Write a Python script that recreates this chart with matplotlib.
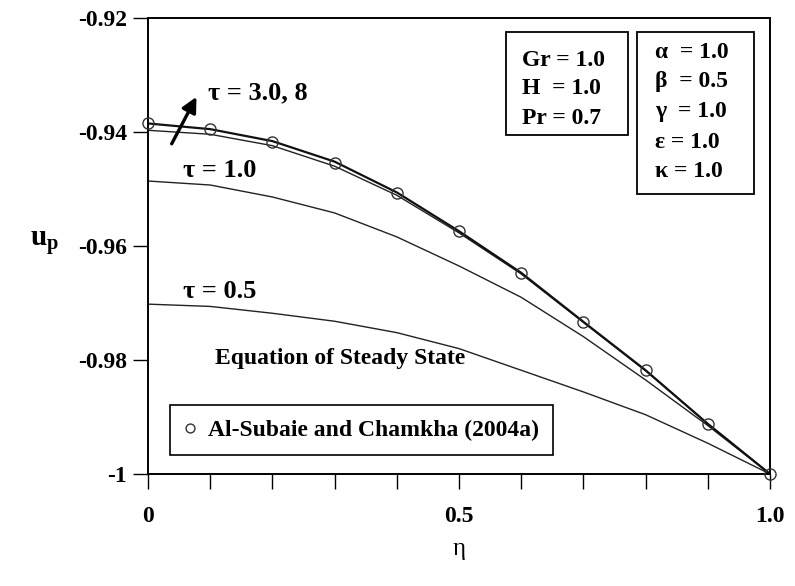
import numpy as np
import matplotlib.pyplot as plt
from matplotlib.patches import Rectangle
from matplotlib.ticker import MultipleLocator, FixedLocator

plt.rcParams['font.family'] = ['Liberation Serif', 'DejaVu Serif']
plt.rcParams['mathtext.fontset'] = 'custom'
plt.rcParams['mathtext.rm'] = 'Liberation Serif'
plt.rcParams['mathtext.bf'] = 'Liberation Serif:bold'

eta = [0.0, 0.1, 0.2, 0.3, 0.4, 0.5, 0.6, 0.7, 0.8, 0.9, 1.0]
u_steady = [-0.9385, -0.9395, -0.9416, -0.9452, -0.9506, -0.9574, -0.9647, -0.9733, -0.9818, -0.9912, -1.0]
u_tau3 = [-0.9397, -0.9404, -0.9424, -0.9460, -0.9511, -0.9577, -0.9649, -0.9734, -0.9819, -0.9912, -1.0]
u_tau1 = [-0.9486, -0.9493, -0.9514, -0.9542, -0.9584, -0.9635, -0.9690, -0.9759, -0.9835, -0.9915, -1.0]
u_tau05 = [-0.9702, -0.9706, -0.9718, -0.9732, -0.9752, -0.9780, -0.9818, -0.9856, -0.9896, -0.9946, -1.0]
ref_eta = [0.0, 0.1, 0.2, 0.3, 0.4, 0.5, 0.6, 0.7, 0.8, 0.9, 1.0]
ref_u = [-0.9384, -0.9395, -0.9418, -0.9454, -0.9507, -0.9574, -0.9647, -0.9733, -0.9818, -0.9912, -1.0]

params_left = ['Gr = 1.0', 'H  = 1.0', 'Pr = 0.7']
params_right = ['α  = 1.0', 'β  = 0.5', 'γ  = 1.0', 'ε = 1.0', 'κ = 1.0']

W, H = 795, 586
fig = plt.figure(figsize=(W / 100, H / 100), dpi=100)
ax = fig.add_axes([148 / W, 1 - 474 / H, 622 / W, 456 / H])

ax.plot(eta, u_tau05, color='#222222', lw=1.0)
ax.plot(eta, u_tau1, color='#222222', lw=1.0)
ax.plot(eta, u_tau3, color='#222222', lw=1.0)
ax.plot(eta, u_steady, color='#111111', lw=1.6)
ref_line, = ax.plot(ref_eta, ref_u, 'o', mfc='none', mec='#333333', ms=8, mew=1.0,
                    clip_on=False, zorder=5)

ax.set_xlim(0, 1.0)
ax.set_ylim(-1.0, -0.92)
ax.xaxis.set_major_locator(FixedLocator([0, 0.5, 1.0]))
ax.xaxis.set_minor_locator(MultipleLocator(0.1))
ax.set_xticklabels(['0', '0.5', '1.0'])
ax.yaxis.set_major_locator(FixedLocator([-1.0, -0.98, -0.96, -0.94, -0.92]))
ax.set_yticklabels(['-1', '-0.98', '-0.96', '-0.94', '-0.92'])
ax.tick_params(axis='x', which='both', direction='out', length=11, width=1.0,
               pad=12, labelsize=17)
ax.tick_params(axis='y', which='major', direction='out', length=11, width=1.0,
               pad=4, labelsize=17)
for lab in ax.get_xticklabels() + ax.get_yticklabels():
    lab.set_fontweight('bold')
for sp in ax.spines.values():
    sp.set_linewidth(1.4)

ax.set_xlabel('η', fontsize=18, labelpad=8)
fig.text(44 / W, 1 - 243 / H, r'$\mathbf{u_p}$', fontsize=21, ha='center', va='center')

ax.text(0.096, -0.9331, 'τ = 3.0, 8', fontsize=19, fontweight='bold', ha='left', va='center')
ax.annotate('', xy=(0.080, -0.9334), xytext=(0.036, -0.9425),
            arrowprops=dict(arrowstyle='-|>,head_length=0.9,head_width=0.45',
                            color='black', lw=2.4))
ax.text(0.056, -0.9467, 'τ = 1.0', fontsize=19, fontweight='bold', ha='left', va='center')
ax.text(0.056, -0.9679, 'τ = 0.5', fontsize=19, fontweight='bold', ha='left', va='center')
ax.text(0.107, -0.9798, 'Equation of Steady State', fontsize=17, fontweight='bold',
        ha='left', va='center')

leg = ax.legend([ref_line], ['Al-Subaie and Chamkha (2004a)'], loc='lower left',
                bbox_to_anchor=((170 - 148) / 622, (474 - 455) / 456), fancybox=False,
                edgecolor='black', framealpha=1, handlelength=0.5, handletextpad=0.5,
                borderpad=0.6, borderaxespad=0,
                prop={'weight': 'bold', 'size': 17, 'family': 'Liberation Serif'},
                markerscale=0.8)
leg.get_frame().set_linewidth(1.2)

# parameter boxes
fig.add_artist(Rectangle((506 / W, 1 - 135 / H), 122 / W, 103 / H, transform=fig.transFigure,
                         fill=False, ec='black', lw=1.3))
for i, s in enumerate(params_left):
    fig.text(522 / W, 1 - (60 + 29 * i) / H, s, fontsize=17, fontweight='bold',
             ha='left', va='center')
fig.add_artist(Rectangle((637 / W, 1 - 194 / H), 117 / W, 162 / H, transform=fig.transFigure,
                         fill=False, ec='black', lw=1.3))
for i, s in enumerate(params_right):
    fig.text(655 / W, 1 - (52 + 30 * i) / H, s, fontsize=17, fontweight='bold',
             ha='left', va='center')

fig.savefig('out.png', dpi=100)
